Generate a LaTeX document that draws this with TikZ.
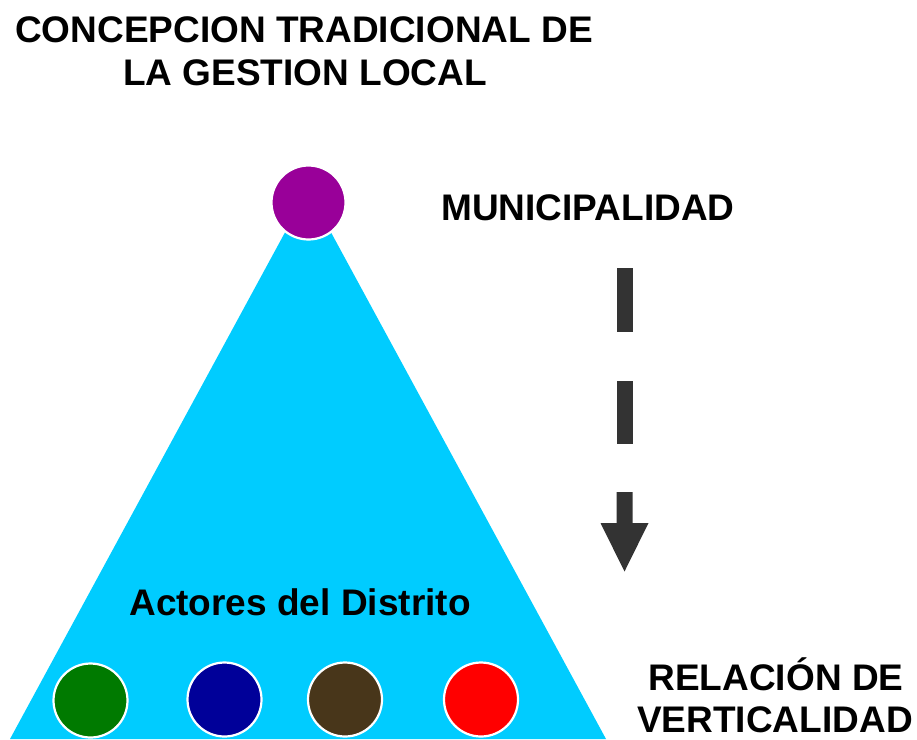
\documentclass[tikz,border=0pt]{standalone}
\usepackage{fontspec}
\setmainfont{Liberation Sans}
\definecolor{cyanfill}{HTML}{00CCFF}
\definecolor{purplefill}{HTML}{990099}
\definecolor{greenfill}{HTML}{007A00}
\definecolor{bluefill}{HTML}{000099}
\definecolor{brownfill}{HTML}{48361A}
\definecolor{redfill}{HTML}{FF0000}
\definecolor{arrowgray}{HTML}{333333}
\tikzset{
  lbl/.style={anchor=base, inner sep=0pt, font=\fontsize{37}{42}\selectfont\bfseries, align=center},
  dot/.style={circle, draw=white, line width=2.2pt, minimum size=74pt, inner sep=0pt},
}
\begin{document}
\begin{tikzpicture}[x=1pt,y=-1pt]
\useasboundingbox (0,0) rectangle (917,739);
% triangle
\fill[cyanfill] (308,190) -- (606,739) -- (10,739) -- cycle;
% top circle
\node[dot, fill=purplefill] (muni) at (308.5,202.5) {};
% bottom circles
\node[dot, fill=greenfill] (a1) at (90.5,700.5) {};
\node[dot, fill=bluefill] (a2) at (224.5,699.5) {};
\node[dot, fill=brownfill] (a3) at (345,699.5) {};
\node[dot, fill=redfill] (a4) at (481,699.5) {};
% texts
\node[lbl] (t1) at (304,42) {CONCEPCION TRADICIONAL DE};
\node[lbl] (t2) at (305,85) {LA GESTION LOCAL};
\node[lbl] (tm) at (588,220) {MUNICIPALIDAD};
\node[lbl] (ta) at (300,615) {Actores del Distrito};
\node[lbl] (tr1) at (776,690) {RELACIÓN DE};
\node[lbl] (tr2) at (775,732) {VERTICALIDAD};
% dashed arrow
\fill[arrowgray] (616.5,268) rectangle (632.5,332);
\fill[arrowgray] (616.5,381) rectangle (632.5,444);
\fill[arrowgray] (616.5,492) -- (632.5,492) -- (632.5,523) -- (648.5,523)
  -- (624.5,571.5) -- (600.5,523) -- (616.5,523) -- cycle;
\end{tikzpicture}
\end{document}
